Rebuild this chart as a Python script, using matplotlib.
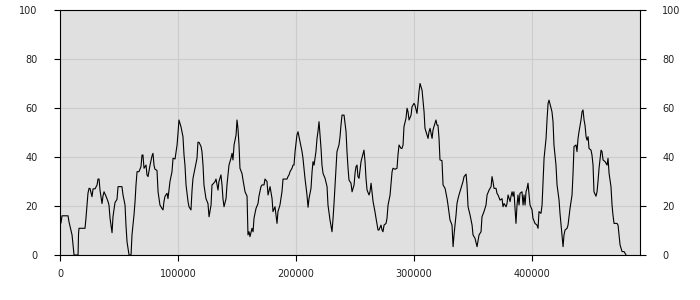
import matplotlib
matplotlib.use("Agg")
import matplotlib.pyplot as plt
from matplotlib.ticker import FixedLocator, FuncFormatter

# sample position and value
positions = [
    0, 800, 1700, 6800, 7600, 10200, 11900, 15300, 15700, 16100,
    21200, 22000, 22900, 23700, 24600, 25400, 27100, 28000, 29700, 31400,
    32200, 33100, 33900, 35600, 36400, 37300, 39000, 40700, 41500, 42400,
    44100, 44900, 46600, 48300, 49200, 52500, 53400, 55100, 55900, 56800,
    58500, 60200, 61000, 62700, 63600, 64400, 65300, 66900, 68600, 69500,
    70300, 71200, 72900, 73700, 74600, 76300, 78000, 78800, 79700, 80500,
    82200, 83100, 84700, 86400, 87300, 88100, 89000, 90700, 91500, 93200,
    94900, 95800, 97500, 99200, 100000, 100800, 102500, 104200, 105100, 105900,
    106800, 108500, 109300, 111000, 111900, 112700, 114400, 116100, 116900, 117800,
    119500, 120300, 121200, 122000, 123700, 125400, 126300, 128000, 128800, 129700,
    131400, 132200, 133900, 134700, 136400, 137300, 138100, 139000, 140700, 141500,
    143200, 144900, 145800, 146600, 147500, 149200, 150000, 150800, 151700, 152500,
    154200, 155100, 156800, 158500, 159300, 160200, 161000, 162700, 163600, 164400,
    166100, 167800, 168600, 170300, 171200, 172900, 173700, 175400, 176300, 178000,
    179700, 180500, 182200, 183900, 184700, 186400, 188100, 189000, 192400, 193200,
    194100, 194900, 196600, 197500, 198300, 199200, 200800, 201700, 203400, 205100,
    205900, 207600, 209300, 210200, 211000, 212700, 213600, 214400, 215300, 216900,
    217800, 218600, 219500, 221200, 222000, 222900, 224600, 226300, 227100, 228800,
    230500, 231400, 232200, 233900, 234700, 236400, 237300, 238100, 239000, 240700,
    242400, 243200, 244100, 244900, 246600, 247500, 249200, 250000, 250800, 251700,
    252500, 253400, 255100, 255900, 257600, 258500, 259300, 260200, 261900, 262700,
    263600, 264400, 265300, 266900, 267800, 269500, 270300, 272000, 272900, 273700,
    274600, 276300, 277100, 278000, 279700, 281400, 282200, 283900, 285600, 286400,
    287300, 289000, 289800, 290700, 291500, 293200, 294100, 294900, 295800, 297500,
    298300, 300000, 300800, 302500, 303400, 304200, 305100, 306800, 307600, 308500,
    309300, 311000, 311900, 312700, 313600, 315300, 316100, 316900, 318600, 319500,
    320300, 321200, 322000, 323700, 324600, 326300, 328000, 328800, 330500, 332200,
    333100, 333900, 335600, 336400, 337300, 338100, 339800, 341500, 342400, 344100,
    344900, 345800, 347500, 349200, 350000, 351700, 353400, 355100, 356800, 357600,
    359300, 361000, 361900, 363600, 365300, 366100, 366900, 367800, 369500, 370300,
    371200, 372900, 374600, 375400, 376300, 378000, 378800, 379700, 381400, 382200,
    383100, 383900, 384700, 386400, 387300, 388100, 389000, 389800, 391500, 392400,
    393200, 394100, 394900, 395800, 396600, 398300, 400000, 400800, 402500, 404200,
    405100, 405900, 407600, 408500, 409300, 410200, 411900, 412700, 413600, 414400,
    416100, 416900, 417800, 418600, 420300, 421200, 422900, 423700, 424600, 425400,
    426300, 427100, 428000, 429700, 430500, 432200, 433900, 434700, 435600, 437300,
    438100, 439000, 439800, 441500, 442400, 443200, 444100, 444900, 445800, 446600,
    447500, 448300, 450000, 450800, 451700, 452500, 454200, 455100, 455900, 456800,
    458500, 459300, 460200, 461900, 463600, 464400, 465300, 466900, 467800, 468600,
    469500, 472000, 472900, 474600, 476300, 478000, 479700,
]
values = [
    13, 13, 16, 16, 13.6, 8.2, 0, 0, 8.6, 10.9,
    10.9, 15, 20.7, 25.2, 27.2, 27.2, 23.8, 27, 27, 28.6,
    31, 31, 26.5, 21, 24, 25.8, 24, 21.8, 20.4, 15,
    9.1, 15.6, 21.4, 22.7, 27.9, 27.9, 24.5, 20.4, 12.2, 5.4,
    0, 0, 8.2, 16.3, 21.8, 28.6, 34, 34, 36, 40.8,
    40.8, 35.4, 36.7, 32.7, 32, 36.7, 40.5, 41.5, 36.5, 35,
    34.5, 25.8, 20.4, 19, 18.4, 21.8, 24, 25.2, 23, 30,
    34, 39.5, 39.2, 44.9, 49.7, 55.1, 52.4, 48.3, 40.8, 36.7,
    28.6, 21.8, 19.7, 18.4, 26.5, 31.3, 35.4, 39.5, 46, 46,
    44.3, 42.2, 36.7, 28.6, 23, 21, 15.6, 20.4, 28.6, 29,
    30, 31, 26.5, 30, 32.7, 28.6, 23, 19.7, 23, 28.6,
    36.7, 39.5, 41.5, 38.8, 44.9, 49, 55.1, 51.7, 44.9, 35.4,
    33.3, 30.6, 25.8, 24, 8.2, 9.5, 7.5, 10.9, 9.5, 15,
    19, 21, 24, 27.9, 28.6, 28.6, 31, 30, 24.5, 27.9,
    23, 17.7, 19.7, 12.9, 17.7, 20.4, 25.8, 31, 31, 32,
    32.7, 34, 35.4, 36.7, 36.7, 42.2, 49, 50.3, 46.3, 42.2,
    39.5, 31.3, 24.5, 19.5, 23, 27.2, 34, 38.1, 36.7, 42.2,
    47.6, 50.3, 54.4, 43.5, 36.7, 33.3, 31.3, 27.9, 20.4, 14.3,
    9.5, 15, 21, 35.4, 42.2, 44.9, 48.3, 53, 57.1, 57.1,
    50.3, 42.2, 35.4, 30.6, 29.3, 25.8, 28.6, 33.3, 36, 36.7,
    32, 31.3, 38.1, 39.7, 42.8, 38.1, 31.3, 26.5, 24.5, 25.8,
    29.3, 25.8, 21.8, 17.7, 15, 10.2, 10.2, 12.2, 10.2, 9.5,
    12.2, 12.9, 15, 20.4, 24.5, 34, 35.4, 35, 35.4, 40.8,
    44.9, 43.5, 43.5, 44.9, 52.4, 55.8, 59.9, 58.5, 55.1, 57.1,
    60.5, 61.9, 61.2, 57.8, 61.9, 66.6, 70, 67.3, 63.2, 58.5,
    51.7, 49, 47.6, 50.3, 51.7, 47.6, 51, 52.4, 55.1, 53,
    53, 47.6, 38.8, 38.5, 28.6, 27.2, 23, 20.4, 14.3, 12.2,
    3.4, 8.2, 16.3, 21, 23, 24.5, 27.2, 30, 32, 33,
    28.6, 19.7, 16.3, 12.2, 8.2, 6.8, 3.4, 8.2, 9.5, 15.6,
    17.7, 20.4, 24.5, 26.5, 27.9, 32, 30, 27.2, 27.2, 25.2,
    24.5, 22.4, 23, 19.7, 21, 19.7, 21, 24.5, 21.8, 24,
    25.8, 24, 25.8, 12.9, 20.4, 24.5, 20.4, 25.2, 25.8, 20.4,
    24.5, 20.4, 25.8, 27.2, 29.3, 20.4, 18.4, 15, 12.9, 12.2,
    10.9, 17.7, 17, 20.4, 29.3, 39.5, 47.6, 55.1, 61.9, 63.2,
    59.9, 58.5, 54.4, 44.9, 36.7, 28.6, 22.4, 17, 12.2, 8.2,
    3.4, 8.2, 10.2, 10.9, 12.2, 19, 24.5, 32.7, 44.3, 44.9,
    42.2, 47.6, 50.3, 55.1, 58.5, 59.2, 55.1, 53, 48.3, 46.9,
    48.3, 43.5, 42.8, 40.8, 36.7, 25.8, 24, 25.8, 30, 35.4,
    42.8, 42.2, 38.8, 38.1, 36.7, 39.5, 33.3, 27.9, 20.4, 16.3,
    12.9, 12.9, 12.2, 4.1, 1.4, 1.4, 0,
]

x_ticks = [0, 100000, 200000, 300000, 400000]
y_ticks = [0, 20, 40, 60, 80, 100]
x_max = 491500

fig = plt.figure(figsize=(7, 3), dpi=100)
ax = fig.add_axes([60 / 700, 45 / 300, 580 / 700, 245 / 300])
ax.set_facecolor("#e0e0e0")

ax.plot(positions, values, color="black", linewidth=0.8)

ax.set_xlim(0, x_max)
ax.set_ylim(0, 100)
ax.xaxis.set_major_locator(FixedLocator(x_ticks))
ax.yaxis.set_major_locator(FixedLocator(y_ticks))
ax.xaxis.set_major_formatter(FuncFormatter(lambda v, _: f"{int(v)}"))
ax.yaxis.set_major_formatter(FuncFormatter(lambda v, _: f"{int(v)}"))

ax.grid(True, color="#cccccc", linewidth=0.8)
ax.set_axisbelow(True)
for spine in ax.spines.values():
    spine.set_color("black")
    spine.set_linewidth(0.8)

ax.tick_params(axis="both", direction="out", length=4, width=0.8,
               labelsize=7, labelcolor="#222222", color="black")
ax.tick_params(axis="y", right=True, labelright=True, pad=12)
ax.tick_params(axis="x", pad=6)

fig.savefig("out.png", dpi=100)
